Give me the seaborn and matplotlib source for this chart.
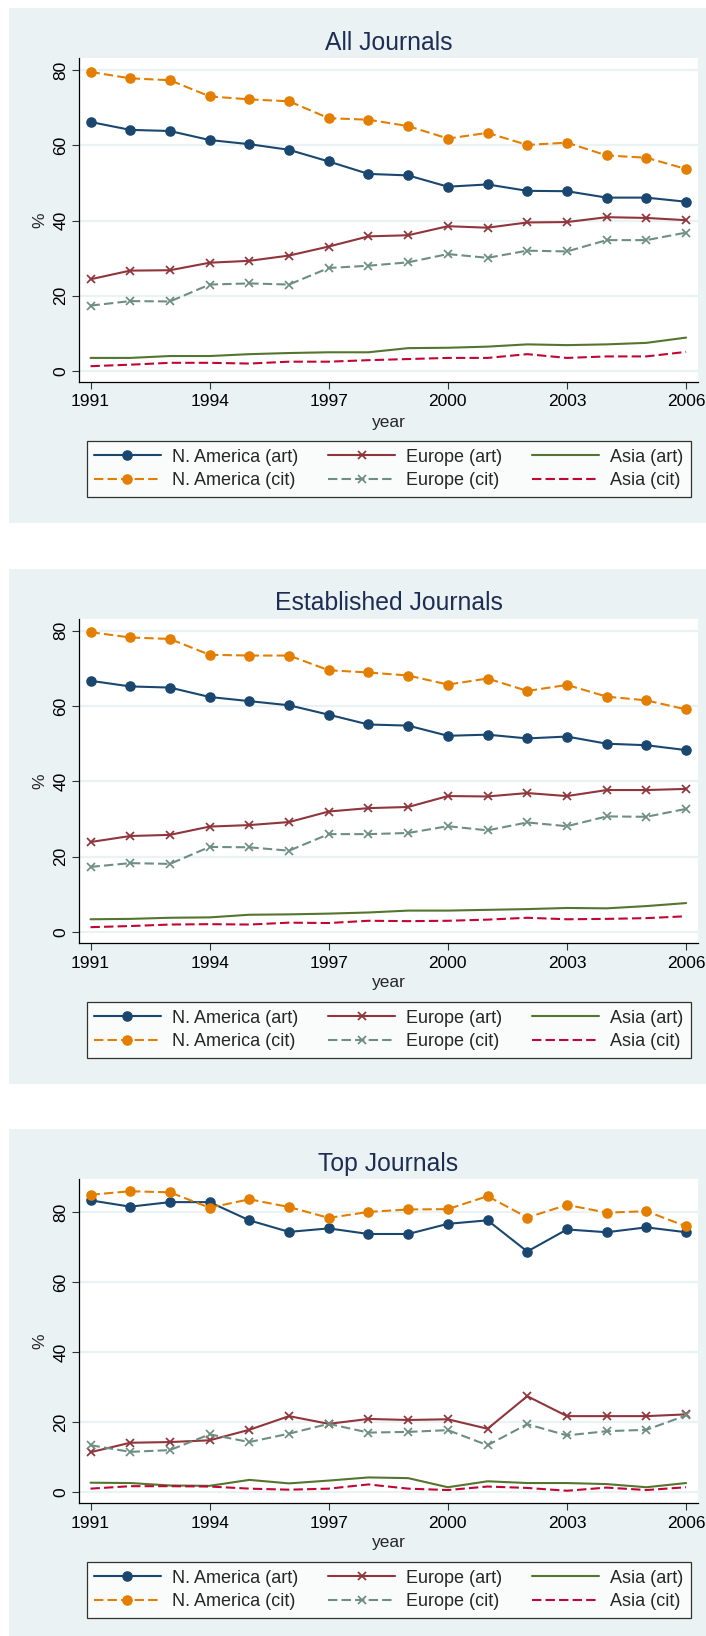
import matplotlib
matplotlib.use("Agg")
import matplotlib.pyplot as plt
import seaborn as sns
from matplotlib.patches import Rectangle

years = list(range(1991, 2007))
xticks = [1991, 1994, 1997, 2000, 2003, 2006]
yticks = [0, 20, 40, 60, 80]

series_labels = ["N. America (art)", "N. America (cit)", "Europe (art)",
                 "Europe (cit)", "Asia (art)", "Asia (cit)"]
panel_titles = ["All Journals", "Established Journals", "Top Journals"]

# All Journals
all_na_art = [66.2, 64.1, 63.8, 61.4, 60.3, 58.8, 55.7, 52.4, 52.0, 49.0, 49.6, 47.9, 47.8, 46.1, 46.1, 45.0]
all_na_cit = [79.5, 77.8, 77.3, 73.0, 72.2, 71.7, 67.2, 66.8, 65.1, 61.8, 63.3, 60.1, 60.7, 57.3, 56.7, 53.7]
all_eu_art = [24.4, 26.7, 26.8, 28.8, 29.3, 30.7, 33.1, 35.8, 36.1, 38.5, 38.1, 39.5, 39.6, 40.9, 40.7, 40.1]
all_eu_cit = [17.4, 18.6, 18.5, 23.0, 23.3, 23.0, 27.4, 28.0, 28.9, 31.1, 30.1, 32.0, 31.8, 34.8, 34.8, 36.8]
all_as_art = [3.5, 3.5, 4.0, 4.0, 4.5, 4.8, 5.0, 5.0, 6.1, 6.2, 6.5, 7.1, 6.9, 7.1, 7.5, 8.9]
all_as_cit = [1.3, 1.7, 2.2, 2.2, 2.0, 2.5, 2.5, 2.9, 3.2, 3.5, 3.5, 4.5, 3.5, 3.9, 3.9, 5.1]

# Established Journals
est_na_art = [66.7, 65.2, 64.9, 62.4, 61.3, 60.2, 57.7, 55.1, 54.8, 52.1, 52.4, 51.4, 51.9, 50.0, 49.6, 48.3]
est_na_cit = [79.6, 78.2, 77.8, 73.6, 73.4, 73.4, 69.5, 68.9, 68.1, 65.7, 67.3, 64.0, 65.6, 62.5, 61.5, 59.1]
est_eu_art = [23.9, 25.5, 25.8, 28.0, 28.4, 29.2, 32.0, 32.9, 33.2, 36.1, 36.0, 36.9, 36.1, 37.7, 37.7, 38.0]
est_eu_cit = [17.3, 18.3, 18.1, 22.6, 22.5, 21.6, 26.0, 26.0, 26.3, 28.1, 27.0, 29.1, 28.1, 30.7, 30.6, 32.7]
est_as_art = [3.4, 3.5, 3.8, 3.9, 4.6, 4.7, 4.9, 5.2, 5.7, 5.7, 5.9, 6.1, 6.4, 6.3, 6.9, 7.7]
est_as_cit = [1.3, 1.6, 2.0, 2.1, 2.0, 2.5, 2.4, 3.0, 2.9, 3.0, 3.3, 3.8, 3.4, 3.5, 3.7, 4.2]

# Top Journals
top_na_art = [83.3, 81.5, 82.8, 82.8, 77.6, 74.3, 75.3, 73.7, 73.7, 76.6, 77.6, 68.7, 75.0, 74.2, 75.6, 74.2]
top_na_cit = [84.9, 85.9, 85.6, 81.2, 83.6, 81.4, 78.3, 80.0, 80.7, 80.8, 84.5, 78.4, 82.0, 79.8, 80.2, 75.9]
top_eu_art = [11.4, 14.1, 14.3, 14.8, 17.8, 21.7, 19.5, 20.9, 20.6, 20.8, 18.1, 27.4, 21.7, 21.7, 21.7, 22.2]
top_eu_cit = [13.4, 11.5, 12.0, 16.5, 14.3, 16.7, 19.5, 17.0, 17.2, 17.7, 13.4, 19.4, 16.2, 17.4, 17.8, 21.9]
top_as_art = [2.7, 2.6, 1.9, 1.8, 3.5, 2.5, 3.3, 4.2, 4.0, 1.4, 3.1, 2.6, 2.6, 2.3, 1.4, 2.6]
top_as_cit = [1.0, 1.7, 1.7, 1.6, 1.0, 0.7, 1.0, 2.2, 1.0, 0.6, 1.6, 1.2, 0.4, 1.3, 0.6, 1.4]

panel_data = [
    [all_na_art, all_na_cit, all_eu_art, all_eu_cit, all_as_art, all_as_cit],
    [est_na_art, est_na_cit, est_eu_art, est_eu_cit, est_as_art, est_as_cit],
    [top_na_art, top_na_cit, top_eu_art, top_eu_cit, top_as_art, top_as_cit],
]
panel_ylims = [(-2.9, 83.2), (-2.9, 83.1), (-3.1, 89.4)]
panel_offsets = [0, 561, 1121]

# stata s2color look
colors = ["#1A476F", "#E37E00", "#90353B", "#6E8E84", "#55752F", "#C10534"]
markers = ["o", "o", "x", "x", None, None]
dashed = [False, True, False, True, False, True]
BG = "#EAF2F3"
TITLE_C = "#1E2D53"

W, H = 706, 1636


def px_rect(x0, y0, x1, y1):
    return [x0 / W, 1 - y1 / H, (x1 - x0) / W, (y1 - y0) / H]


sns.set_style("white")
plt.rcParams["font.family"] = ["Liberation Sans", "DejaVu Sans"]

fig = plt.figure(figsize=(W / 100, H / 100), dpi=100)
fig.patch.set_facecolor("white")

for title, data, ylim, dy in zip(panel_titles, panel_data, panel_ylims, panel_offsets):
    fig.patches.append(Rectangle((9 / W, 1 - (523 + dy) / H), (W - 9) / W, 515 / H,
                                 transform=fig.transFigure, facecolor=BG,
                                 edgecolor="none", zorder=0))
    ax = fig.add_axes(px_rect(79, 58 + dy, 698, 382 + dy))
    ax.set_facecolor("white")
    ax.set_zorder(1)

    for yt in yticks:
        ax.axhline(yt, color=BG, linewidth=1.6, zorder=0)

    for vals, lab, c, m, d in zip(data, series_labels, colors, markers, dashed):
        kws = dict(color=c, linewidth=1.5, label=lab)
        if m is not None:
            kws.update(marker=m, markersize=6.6 if m == "o" else 6.2,
                       markeredgecolor=c, markerfacecolor=c,
                       markeredgewidth=1.0 if m == "o" else 1.25)
        sns.lineplot(x=years, y=vals, ax=ax, **kws)
        if d:
            ax.lines[-1].set_dashes((4.5, 2.0))

    ax.set_xlim(1990.71, 2006.30)
    ax.set_ylim(*ylim)
    ax.set_xticks(xticks)
    ax.set_yticks(yticks)
    ax.set_xlabel("")
    ax.set_ylabel("")
    for s in ["top", "right"]:
        ax.spines[s].set_visible(False)
    for s in ["left", "bottom"]:
        ax.spines[s].set_color("black")
        ax.spines[s].set_linewidth(0.9)
    ax.tick_params(axis="both", direction="out", length=5, width=0.8,
                   color="#333333", labelsize=12.5, labelcolor="black")
    ax.tick_params(axis="x", pad=4, bottom=True)
    ax.tick_params(axis="y", pad=2.5, left=True, labelrotation=90)
    for t in ax.get_yticklabels():
        t.set_va("center")

    fig.text(388.5 / W, 1 - (49.5 + dy) / H, title, ha="center", va="baseline",
             fontsize=17.8, color=TITLE_C)
    fig.text(40 / W, 1 - (220 + dy) / H, "%", ha="center", va="center",
             rotation=90, fontsize=12.5)
    fig.text(388.5 / W, 1 - (426.5 + dy) / H, "year", ha="center", va="baseline",
             fontsize=12.5)

    handles, labels = ax.get_legend_handles_labels()
    leg = ax.legend(handles, labels, ncol=3, loc="upper left",
                    bbox_to_anchor=(86.5 / W, 1 - (498 + dy) / H, 604 / W, 57 / H),
                    bbox_transform=fig.transFigure, mode="expand", borderaxespad=0,
                    fontsize=13, handlelength=3.7, handletextpad=0.6,
                    columnspacing=1.7, labelspacing=0.38, borderpad=0.42,
                    frameon=True, fancybox=False, shadow=False)
    leg.get_frame().set_edgecolor("black")
    leg.get_frame().set_linewidth(0.9)

fig.savefig("out.png", dpi=100, facecolor="white")
